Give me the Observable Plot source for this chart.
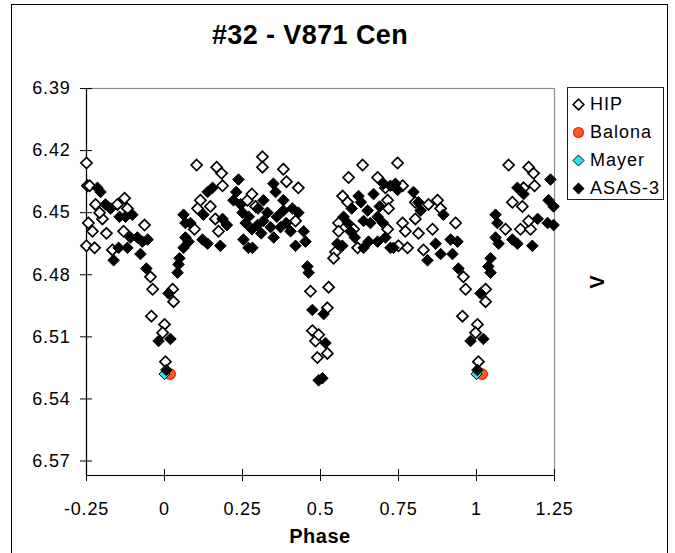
<!DOCTYPE html>
<html><head><meta charset="utf-8">
<script src="https://cdn.jsdelivr.net/npm/d3@7"></script>
<script src="https://cdn.jsdelivr.net/npm/@observablehq/plot@0.6"></script>
<style>
body{margin:0;background:#fff;overflow:hidden;font-family:Arial,"Liberation Sans",sans-serif;color:#000}
#wrap{position:relative;width:675px;height:553px;overflow:hidden;background:#fff}
#chart{position:absolute;left:0;top:0}
#frame{position:absolute;left:11px;top:4px;width:657px;height:580px;border:1.5px solid #000;box-sizing:border-box;pointer-events:none}
#title{position:absolute;left:0;width:620px;top:22px;text-align:center;font-weight:bold;font-size:27px;line-height:1;letter-spacing:0.4px}
#xlabel{position:absolute;left:220px;width:200px;top:526px;text-align:center;font-weight:bold;font-size:20px;line-height:1;letter-spacing:0.5px}
#ylabel{position:absolute;left:577px;width:40px;top:272px;text-align:center;font-weight:bold;font-size:20px;line-height:20px;transform:rotate(-90deg)}
#legend{position:absolute;left:567px;top:87px;width:97px;height:113px;border:1px solid #222;box-sizing:border-box;background:#fff}
.row{position:absolute;left:0;height:24px;display:flex;align-items:center;font-size:18px;letter-spacing:1px;white-space:nowrap}
.row svg{margin-left:4px;margin-right:5px}
</style></head>
<body>
<div id="wrap">
  <div id="chart"></div>
  <div id="title">#32 - V871 Cen</div>
  <div id="xlabel">Phase</div>
  <div id="ylabel">V</div>
  <div id="legend"></div>
  <div id="frame"></div>
</div>
<script>
// ---- data ----
const xDomain = [-0.25, 1.25];
const yDomain = [6.39, 6.577];
const xTicks = [-0.25, 0, 0.25, 0.5, 0.75, 1, 1.25];
const yTicks = [6.39, 6.42, 6.45, 6.48, 6.51, 6.54, 6.57];

const hipPhase = [-0.250,-0.247,-0.240,-0.221,-0.244,-0.231,-0.250,-0.224,-0.199,-0.208,-0.186,-0.167,-0.151,-0.128,-0.119,-0.131,-0.064,-0.045,-0.038,-0.042,0.000,-0.006,0.003,0.026,0.029,0.103,0.167,0.183,0.186,0.147,0.115,0.106,0.163,0.173,0.096,0.314,0.314,0.266,0.292,0.381,0.391,0.429,0.280,0.420,0.468,0.526,0.522,0.474,0.484,0.494,0.490,0.522,0.635,0.590,0.683,0.571,0.587,0.708,0.747,0.558,0.558,0.606,0.548,0.542,0.619,0.715,0.718,0.715,0.763,0.763,0.772,0.750,0.779,0.804,0.804,0.814,0.846,0.875,0.885,0.859,0.933,0.830,0.958,0.965,0.955,1.003,0.997,1.006,1.029,1.029,1.103,1.167,1.183,1.186,1.151,1.115,1.147,1.093,1.141,1.173,1.167];
const hipV = [6.426,6.437,6.437,6.446,6.455,6.459,6.466,6.467,6.453,6.450,6.460,6.468,6.446,6.443,6.448,6.459,6.456,6.481,6.487,6.500,6.504,6.508,6.522,6.487,6.493,6.427,6.428,6.431,6.437,6.447,6.444,6.448,6.453,6.459,6.458,6.423,6.428,6.444,6.447,6.429,6.435,6.438,6.441,6.454,6.488,6.486,6.496,6.507,6.512,6.509,6.520,6.518,6.427,6.433,6.433,6.442,6.445,6.438,6.426,6.455,6.459,6.458,6.469,6.472,6.467,6.444,6.448,6.458,6.437,6.455,6.459,6.466,6.467,6.445,6.453,6.460,6.446,6.444,6.448,6.458,6.455,6.468,6.481,6.487,6.500,6.504,6.508,6.522,6.487,6.493,6.427,6.428,6.431,6.437,6.438,6.445,6.447,6.458,6.458,6.458,6.454];

const balonaPhase = [0.018, 1.018];
const balonaV = [6.528, 6.528];
const mayerPhase = [0.000, 1.000];
const mayerV = [6.528, 6.528];

const asasPhase = [-0.215,-0.205,-0.189,-0.173,-0.144,-0.125,-0.103,-0.109,-0.087,-0.071,-0.054,-0.147,-0.119,-0.077,-0.163,-0.058,-0.019,0.019,0.013,0.042,0.048,0.045,0.061,0.067,0.083,0.067,0.077,0.061,0.122,0.138,0.179,0.138,0.154,0.125,0.186,0.237,0.221,0.244,0.253,0.269,0.006,0.349,0.356,0.381,0.381,0.429,0.317,0.317,0.298,0.340,0.372,0.404,0.446,0.452,0.420,0.282,0.458,0.462,0.474,0.510,0.516,0.506,0.494,0.622,0.670,0.683,0.724,0.747,0.574,0.587,0.596,0.554,0.638,0.654,0.683,0.724,0.651,0.638,0.740,0.798,0.814,0.821,0.702,0.708,0.734,0.843,0.869,0.885,0.894,0.917,0.939,0.923,0.942,1.013,0.981,1.022,1.003,1.045,1.045,1.038,1.061,1.067,1.061,1.071,1.115,1.131,1.179,1.131,1.151,1.196,1.237,1.231,1.247,1.247,1.228,0.230,0.250,0.270,0.300,0.330,0.360,0.390,0.410,0.280,0.350,0.310,0.260,0.200,0.600,0.630,0.660,0.700,0.690,0.610,0.570];
const asasV = [6.438,6.440,6.446,6.448,6.452,6.452,6.451,6.462,6.462,6.464,6.463,6.467,6.467,6.470,6.473,6.477,6.512,6.511,6.489,6.479,6.472,6.475,6.451,6.455,6.455,6.462,6.464,6.467,6.463,6.465,6.466,6.440,6.438,6.451,6.453,6.434,6.444,6.446,6.463,6.467,6.526,6.436,6.440,6.444,6.449,6.450,6.444,6.454,6.456,6.457,6.457,6.459,6.459,6.464,6.466,6.467,6.476,6.479,6.497,6.499,6.513,6.530,6.531,6.442,6.441,6.452,6.437,6.439,6.452,6.455,6.459,6.465,6.467,6.464,6.464,6.467,6.449,6.454,6.436,6.440,6.445,6.449,6.436,6.462,6.467,6.473,6.465,6.470,6.451,6.463,6.464,6.470,6.477,6.489,6.512,6.511,6.526,6.479,6.472,6.476,6.451,6.455,6.462,6.465,6.463,6.465,6.466,6.438,6.441,6.453,6.434,6.444,6.447,6.456,6.455,6.440,6.450,6.452,6.448,6.450,6.452,6.455,6.448,6.458,6.462,6.460,6.455,6.456,6.448,6.445,6.455,6.455,6.447,6.462,6.466];

const seriesNames = ["HIP", "Balona", "Mayer", "ASAS-3"];

// ---- tables ----
const toRows = (px, vy) => px.map((p, i) => ({phase: p, v: vy[i]}));
const hip = toRows(hipPhase, hipV);
const balona = toRows(balonaPhase, balonaV);
const mayer = toRows(mayerPhase, mayerV);
const asas = toRows(asasPhase, asasV);

const fontFam = "Arial, 'Liberation Sans', sans-serif";
const fmtX = d => String(d);
const fmtY = d3.format(".2f");

const chart = Plot.plot({
  width: 675, height: 553,
  marginLeft: 86, marginRight: 121, marginTop: 88, marginBottom: 78,
  style: {fontFamily: fontFam, fontSize: "18px", background: "transparent", letterSpacing: "0.8px", color: "#000"},
  x: {domain: xDomain, ticks: xTicks, tickFormat: fmtX},
  y: {domain: yDomain, reverse: true, ticks: yTicks, tickFormat: fmtY},
  marks: [
    Plot.frame({stroke: "#8c8c8c", strokeWidth: 1.2}),
    Plot.ruleX([xDomain[0]], {stroke: "#000", strokeWidth: 1.2}),
    Plot.ruleY([yDomain[1]], {stroke: "#000", strokeWidth: 1.2}),
    Plot.axisY({ticks: yTicks, tickFormat: fmtY, tickSize: 12, dx: 6, tickPadding: 10, label: null, stroke: "#000", fill: "#000", strokeOpacity: 1}),
    Plot.axisX({ticks: xTicks, tickFormat: fmtX, tickSize: 12, dy: -6, tickPadding: 21, label: null, stroke: "#000", fill: "#000", strokeOpacity: 1}),
    Plot.dot(hip, {x: "phase", y: "v", symbol: "diamond2", r: 5, fill: "#fff", stroke: "#000", strokeWidth: 1.7}),
    Plot.dot(balona, {x: "phase", y: "v", symbol: "circle", r: 5.3, fill: "#ff5a1e", stroke: "#ff1a00", strokeWidth: 1.2}),
    Plot.dot(mayer, {x: "phase", y: "v", symbol: "diamond2", r: 5, fill: "#2ee0ee", stroke: "#000", strokeWidth: 1}),
    Plot.dot(asas, {x: "phase", y: "v", symbol: "diamond2", r: 5.2, fill: "#000", stroke: "#000", strokeWidth: 1})
  ]
});
document.getElementById("chart").appendChild(chart);

// ---- legend ----
const legendSym = {
  "HIP": '<svg width="13" height="13"><polygon points="6.5,1.2 11.8,6.5 6.5,11.8 1.2,6.5" fill="#fff" stroke="#000" stroke-width="1.6"/></svg>',
  "Balona": '<svg width="13" height="13"><circle cx="6.5" cy="6.5" r="5" fill="#ff5a1e" stroke="#ff1a00" stroke-width="1.2"/></svg>',
  "Mayer": '<svg width="13" height="13"><polygon points="6.5,1 12,6.5 6.5,12 1,6.5" fill="#2ee0ee" stroke="#000" stroke-width="1"/></svg>',
  "ASAS-3": '<svg width="13" height="13"><polygon points="6.5,0.5 12.5,6.5 6.5,12.5 0.5,6.5" fill="#000"/></svg>'
};
const legend = document.getElementById("legend");
seriesNames.forEach((name, i) => {
  const row = document.createElement("div");
  row.className = "row";
  row.style.top = (4 + 28 * i) + "px";
  row.innerHTML = legendSym[name] + "<span>" + name + "</span>";
  legend.appendChild(row);
});
</script>
</body></html>
